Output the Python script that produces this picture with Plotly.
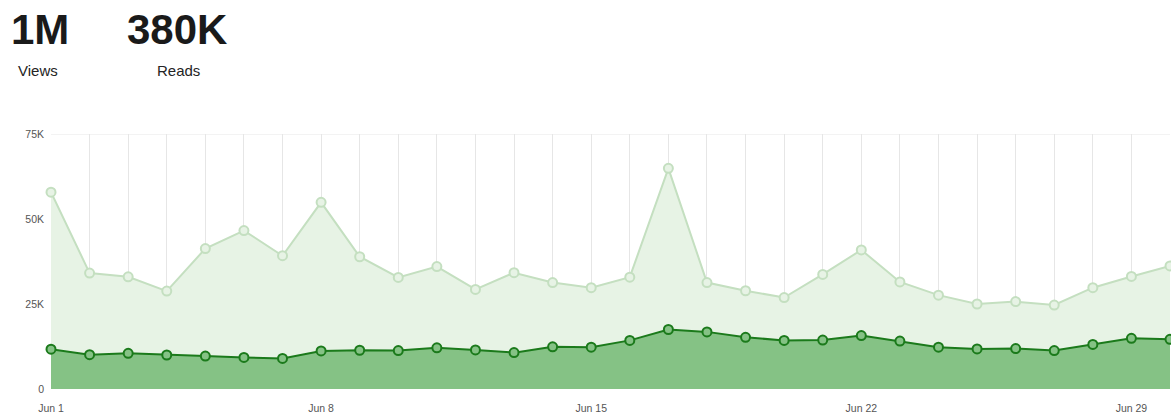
import plotly.graph_objects as go
import pandas as pd

dates = pd.date_range("2024-06-01", "2024-06-30", freq="D")
views = [57.9, 34.1, 33.0, 28.8, 41.3, 46.6, 39.2, 54.9, 38.9, 32.8,
         36.0, 29.3, 34.2, 31.3, 29.8, 32.9, 64.9, 31.3, 28.9, 26.9,
         33.7, 40.9, 31.5, 27.6, 25.0, 25.7, 24.7, 29.8, 33.1, 36.2]
reads = [11.7, 10.1, 10.5, 10.0, 9.7, 9.3, 9.0, 11.2, 11.4, 11.3,
         12.1, 11.5, 10.7, 12.4, 12.3, 14.3, 17.5, 16.8, 15.2, 14.3,
         14.4, 15.7, 14.1, 12.3, 11.8, 11.9, 11.3, 13.1, 14.9, 14.6]
views = [v * 1000 for v in views]
reads = [v * 1000 for v in reads]

y_ticks = [0, 25000, 50000, 75000]
y_labels = ["0", "25K", "50K", "75K"]
headline = [("1M", "Views"), ("380K", "Reads")]

W, H = 1171, 417
L, T, B, R = 51, 134, 28, 1
PW, PH = W - L - R, H - T - B

fig = go.Figure()
fig.add_trace(go.Scatter(
    x=dates, y=views, mode="lines+markers", fill="tozeroy",
    fillcolor="#e7f3e5", line=dict(color="#c4dfc0", width=2),
    marker=dict(size=9, color="#e7f3e5", line=dict(color="#c4dfc0", width=2)),
    cliponaxis=False, hoverinfo="skip", name="Views"))
fig.add_trace(go.Scatter(
    x=dates, y=reads, mode="lines+markers", fill="tozeroy",
    fillcolor="#85c285", line=dict(color="#1b7a1b", width=2),
    marker=dict(size=9, color="#85c285", line=dict(color="#1b7a1b", width=2)),
    cliponaxis=False, hoverinfo="skip", name="Reads"))

fig.add_shape(type="line", xref="paper", x0=0, x1=1, yref="y", y0=75000, y1=75000,
              line=dict(color="#e8e8e8", width=1), layer="below")

fig.update_layout(
    width=W, height=H,
    margin=dict(l=L, r=R, t=T, b=B),
    paper_bgcolor="white", plot_bgcolor="white",
    showlegend=False,
    font=dict(family="Liberation Sans, Arial, sans-serif", color="#666666"),
)
fig.update_xaxes(
    type="date", range=[dates[0], dates[-1]],
    tick0=dates[0], dtick=7 * 86400000, tickformat="%b %-d",
    showgrid=True, gridcolor="#e6e6e6", gridwidth=1,
    minor=dict(dtick=86400000, showgrid=True, gridcolor="#e6e6e6", gridwidth=1),
    showline=False, zeroline=False, ticks="",
    ticklabelstandoff=11,
    tickfont=dict(size=10.5, color="#555555"),
)
fig.update_yaxes(
    range=[0, 75000], tickvals=y_ticks, ticktext=y_labels,
    showgrid=False, zeroline=False, showline=False, ticks="",
    ticklabelstandoff=6,
    tickfont=dict(size=10.5, color="#555555"),
)

xs = [(9, 16), (125, 155)]
for (num, lab), (xn, xl) in zip(headline, xs):
    fig.add_annotation(text=num, xref="paper", yref="paper",
                       x=(xn - 51) / PW, y=1 + (134 - 29) / PH,
                       xanchor="left", yanchor="middle", showarrow=False,
                       font=dict(size=42, color="#1a1a1a",
                                 family="Liberation Sans, Arial, sans-serif", weight=600))
    fig.add_annotation(text=lab, xref="paper", yref="paper",
                       x=(xl - 51) / PW, y=1 + (134 - 70) / PH,
                       xanchor="left", yanchor="middle", showarrow=False,
                       font=dict(size=15, color="#242424",
                                 family="Liberation Sans, Arial, sans-serif"))

fig.write_html("out.html",
               config={"displayModeBar": False},
               post_script="document.body.style.margin='0';document.body.style.overflow='hidden';")
